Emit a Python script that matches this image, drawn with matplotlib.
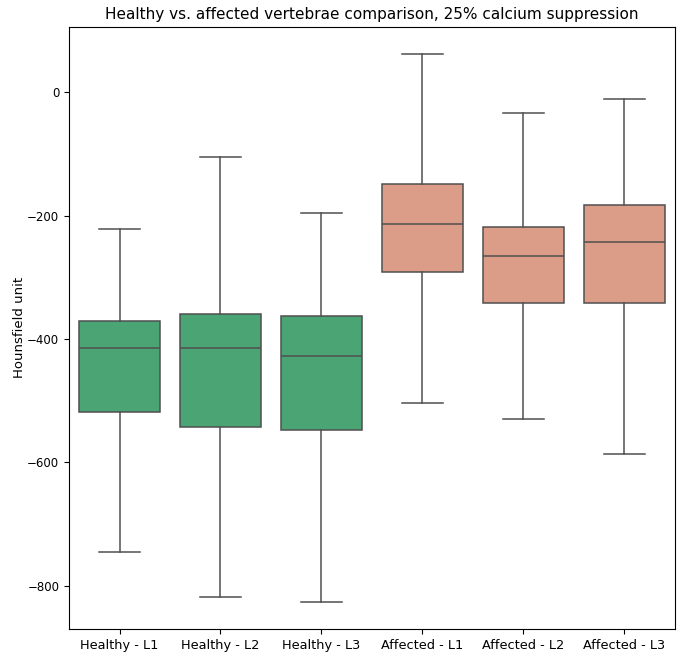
import matplotlib
matplotlib.use("Agg")
import matplotlib.pyplot as plt
import seaborn as sns

categories = ["Healthy - L1", "Healthy - L2", "Healthy - L3",
              "Affected - L1", "Affected - L2", "Affected - L3"]
whisker_low = [-745, -819, -826, -504, -529, -587]
q1 = [-519, -543, -547, -292, -341, -342]
median = [-414, -414, -427, -213, -266, -242]
q3 = [-370, -360, -362, -149, -219, -182]
whisker_high = [-221, -105, -195, 62, -34, -10]
groups = ["Healthy"] * 3 + ["Affected"] * 3

base_colors = {"Healthy": "mediumseagreen", "Affected": "darksalmon"}

fig = plt.figure(figsize=(6.8, 6.53), dpi=100)
ax = fig.add_axes([0.1015, 0.0368, 0.891, 0.922])

stats = []
for i, c in enumerate(categories):
    stats.append(dict(label=c, whislo=whisker_low[i], q1=q1[i], med=median[i],
                      q3=q3[i], whishi=whisker_high[i], fliers=[]))

line_c = "#505050"
bp = ax.bxp(stats, positions=range(len(categories)), widths=0.8,
            patch_artist=True, showfliers=False,
            boxprops=dict(edgecolor=line_c, linewidth=1.1),
            whiskerprops=dict(color=line_c, linewidth=1.1),
            capprops=dict(color=line_c, linewidth=1.1),
            medianprops=dict(color=line_c, linewidth=1.1))
for patch, g in zip(bp["boxes"], groups):
    patch.set_facecolor(sns.desaturate(base_colors[g], 0.75))

ax.set_xlim(-0.5, len(categories) - 0.5)
ax.margins(y=0.05)
ax.set_xticks(range(len(categories)))
ax.set_xticklabels(categories, fontsize=9.3)
ax.tick_params(axis="y", labelsize=8.5)
ax.set_ylabel("Hounsfield unit", fontsize=9.5, labelpad=1)
ax.set_title("Healthy vs. affected vertebrae comparison, 25% calcium suppression",
             fontsize=11)

fig.savefig("out.png", dpi=100)
